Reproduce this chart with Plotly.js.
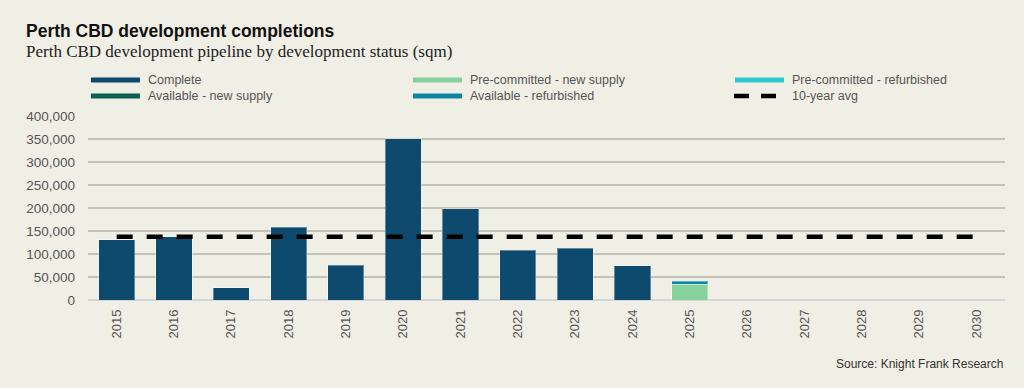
<!DOCTYPE html>
<html>
<head>
<meta charset="utf-8">
<script src="https://cdn.plot.ly/plotly-3.0.1.min.js"></script>
<style>
  html, body { margin: 0; padding: 0; background: #f0efe6; }
  #chart { width: 1024px; height: 388px; }
</style>
</head>
<body>
<div id="chart"></div>
<script>
// ---- Data ----
var years = ['2015','2016','2017','2018','2019','2020','2021','2022','2023','2024','2025','2026','2027','2028','2029','2030'];
var complete =            [131000, 137000, 27000, 158000, 76000, 351000, 198000, 108000, 113000, 74000, null, null, null, null, null, null];
var preCommittedNew =     [null, null, null, null, null, null, null, null, null, null, 34000, null, null, null, null, null];
var preCommittedRefurb =  [null, null, null, null, null, null, null, null, null, null, null, null, null, null, null, null];
var availableNew =        [null, null, null, null, null, null, null, null, null, null, null, null, null, null, null, null];
var availableRefurb =     [null, null, null, null, null, null, null, null, null, null, 6500, null, null, null, null, null];
var tenYearAvg =          [137500, 137500, 137500, 137500, 137500, 137500, 137500, 137500, 137500, 137500, 137500, 137500, 137500, 137500, 137500, 137500];
var seriesNames = ['Complete', 'Pre-committed - new supply', 'Pre-committed - refurbished', 'Available - new supply', 'Available - refurbished', '10-year avg'];

// ---- Styles ----
var colors = {
  complete: '#0d4a6e',
  preNew: '#86d29a',
  preRef: '#2ec9d0',
  avNew: '#0b6150',
  avRef: '#0e86a3',
  avg: '#000000'
};
var barLine = {color: 'rgba(255,255,255,0.35)', width: 1};

function bar(name, y, color) {
  return {type: 'bar', name: name, x: years, y: y, marker: {color: color, line: barLine}, showlegend: false, hoverinfo: 'x+y+name'};
}

var traces = [
  bar(seriesNames[0], complete, colors.complete),
  bar(seriesNames[1], preCommittedNew, colors.preNew),
  bar(seriesNames[2], preCommittedRefurb, colors.preRef),
  bar(seriesNames[3], availableNew, colors.avNew),
  bar(seriesNames[4], availableRefurb, colors.avRef),
  {type: 'scatter', mode: 'lines', name: seriesNames[5], x: years, y: tenYearAvg,
   line: {color: colors.avg, width: 4.5, dash: '16px,14px'}, showlegend: false}
];

// ---- Layout geometry ----
var W = 1024, H = 388;
var mL = 88, mR = 19, mT = 116, mB = 88;
var pw = W - mL - mR, ph = H - mT - mB;
function px(x) { return (x - mL) / pw; }
function py(y) { return (H - mB - y) / ph; }

var shapes = [];
var annotations = [];
var legendItems = [
  {name: seriesNames[0], color: colors.complete, col: 0, row: 0},
  {name: seriesNames[1], color: colors.preNew, col: 1, row: 0},
  {name: seriesNames[2], color: colors.preRef, col: 2, row: 0},
  {name: seriesNames[3], color: colors.avNew, col: 0, row: 1},
  {name: seriesNames[4], color: colors.avRef, col: 1, row: 1},
  {name: seriesNames[5], color: colors.avg, col: 2, row: 1, dash: true}
];
var colX = [91, 413, 735];
var rowY = [80, 96];
legendItems.forEach(function(it) {
  var x0 = colX[it.col], y = rowY[it.row];
  if (it.dash) {
    shapes.push({type: 'line', xref: 'paper', yref: 'paper', x0: px(x0 - 1), x1: px(x0 + 14), y0: py(y), y1: py(y), line: {color: it.color, width: 4.5}});
    shapes.push({type: 'line', xref: 'paper', yref: 'paper', x0: px(x0 + 26), x1: px(x0 + 41), y0: py(y), y1: py(y), line: {color: it.color, width: 4.5}});
  } else {
    shapes.push({type: 'line', xref: 'paper', yref: 'paper', x0: px(x0), x1: px(x0 + 49), y0: py(y), y1: py(y), line: {color: it.color, width: 5}});
  }
  annotations.push({xref: 'paper', yref: 'paper', x: px(x0 + 55), y: py(y), xanchor: 'left', yanchor: 'middle',
    text: it.name, showarrow: false, font: {family: 'Liberation Sans, Arial, sans-serif', size: 12.5, color: '#555555'}});
});

// Title and subtitle
annotations.push({xref: 'paper', yref: 'paper', x: px(24), y: py(31), xanchor: 'left', yanchor: 'middle',
  text: '<b>Perth CBD development completions</b>', showarrow: false,
  font: {family: 'Liberation Sans, Arial, sans-serif', size: 17.5, color: '#111111'}});
annotations.push({xref: 'paper', yref: 'paper', x: px(24), y: py(51), xanchor: 'left', yanchor: 'middle',
  text: 'Perth CBD development pipeline by development status (sqm)', showarrow: false,
  font: {family: 'Liberation Serif, Times New Roman, serif', size: 17, color: '#222222'}});
// Source
annotations.push({xref: 'paper', yref: 'paper', x: px(1005), y: py(364), xanchor: 'right', yanchor: 'middle',
  text: 'Source: Knight Frank Research', showarrow: false,
  font: {family: 'Liberation Sans, Arial, sans-serif', size: 12, color: '#333333'}});

var layout = {
  width: W, height: H,
  margin: {l: mL, r: mR, t: mT, b: mB, pad: 0},
  paper_bgcolor: '#f0efe6',
  plot_bgcolor: '#f0efe6',
  barmode: 'stack',
  bargap: 0.37,
  showlegend: false,
  xaxis: {
    type: 'category',
    range: [-0.5, 15.5],
    tickangle: -90,
    showgrid: false,
    showline: false,
    ticks: '',
    ticklabelstandoff: 6,
    tickfont: {family: 'Liberation Sans, Arial, sans-serif', size: 13, color: '#555555'}
  },
  yaxis: {
    range: [0, 400000],
    dtick: 50000,
    tickformat: ',',
    showgrid: true,
    gridcolor: '#c3c2b8',
    gridwidth: 1.5,
    zeroline: true,
    zerolinecolor: '#d3d5d6',
    zerolinewidth: 2,
    showline: false,
    ticks: '',
    ticklabelstandoff: 12,
    tickfont: {family: 'Liberation Sans, Arial, sans-serif', size: 13.5, color: '#555555'}
  },
  shapes: shapes,
  annotations: annotations
};

Plotly.newPlot('chart', traces, layout, {displayModeBar: false, staticPlot: true});
</script>
</body>
</html>
